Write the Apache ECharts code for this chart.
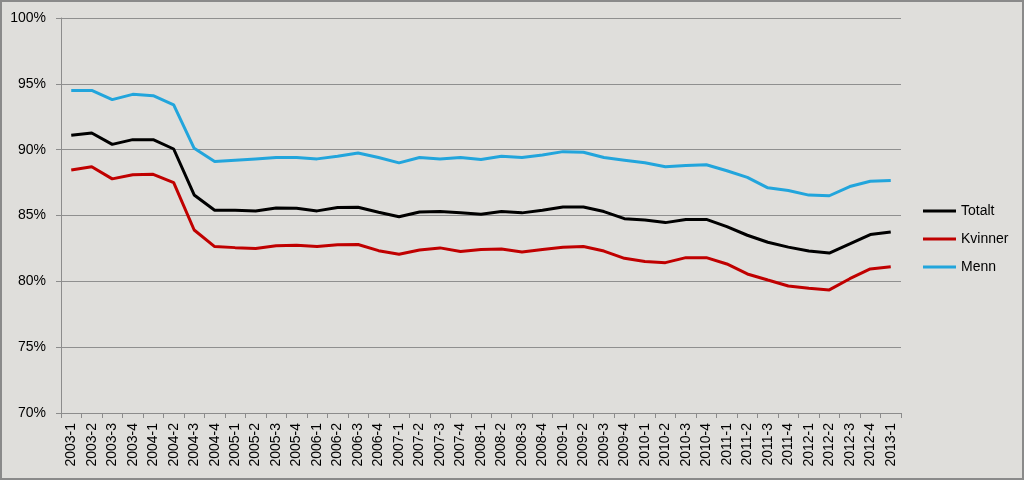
<!DOCTYPE html>
<html>
<head>
<meta charset="utf-8">
<script src="https://cdn.jsdelivr.net/npm/echarts@6/dist/echarts.min.js"></script>
<style>
  html, body { margin: 0; padding: 0; background: #dfdedb; }
  #chart_id { width: 1024px; height: 480px; }
</style>
</head>
<body>
<div id="chart_id"></div>
<script>
// kvartal 2003-1 .. 2013-1
var quarters = [
  '2003-1','2003-2','2003-3','2003-4','2004-1','2004-2','2004-3','2004-4',
  '2005-1','2005-2','2005-3','2005-4','2006-1','2006-2','2006-3','2006-4',
  '2007-1','2007-2','2007-3','2007-4','2008-1','2008-2','2008-3','2008-4',
  '2009-1','2009-2','2009-3','2009-4','2010-1','2010-2','2010-3','2010-4',
  '2011-1','2011-2','2011-3','2011-4','2012-1','2012-2','2012-3','2012-4',
  '2013-1'
];
var totalt = [
  91.1, 91.27, 90.4, 90.76, 90.76, 90.05, 86.56, 85.4,
  85.4, 85.35, 85.57, 85.55, 85.35, 85.6, 85.63, 85.25,
  84.9, 85.27, 85.3, 85.2, 85.1, 85.3, 85.2, 85.4,
  85.65, 85.65, 85.3, 84.76, 84.66, 84.46, 84.7, 84.7,
  84.15, 83.5, 82.97, 82.6, 82.3, 82.15, 82.84, 83.55,
  83.75
];
var kvinner = [
  88.46, 88.7, 87.78, 88.1, 88.13, 87.5, 83.9, 82.64,
  82.56, 82.5, 82.7, 82.74, 82.64, 82.77, 82.8, 82.33,
  82.05, 82.38, 82.54, 82.26, 82.41, 82.46, 82.23, 82.41,
  82.59, 82.64, 82.3, 81.75, 81.5, 81.42, 81.8, 81.8,
  81.32, 80.56, 80.1, 79.65, 79.47, 79.35, 80.2, 80.94,
  81.1
];
var menn = [
  94.5, 94.5, 93.8, 94.2, 94.1, 93.4, 90.1, 89.1,
  89.2, 89.3, 89.4, 89.4, 89.3, 89.5, 89.75, 89.4,
  89.0, 89.4, 89.3, 89.4, 89.25, 89.5, 89.4, 89.6,
  89.85, 89.8, 89.4, 89.2, 89.0, 88.7, 88.8, 88.85,
  88.4, 87.9, 87.1, 86.9, 86.55, 86.5, 87.2, 87.6,
  87.65
];
var yTicks = { min: 70, max: 100, step: 5 };

var chart = echarts.init(document.getElementById('chart_id'));
var font = '"Liberation Sans", Arial, sans-serif';
var option = {
  backgroundColor: '#dfdedb',
  animation: false,
  color: ['#000000', '#c00000', '#22a5dc'],
  textStyle: { fontFamily: font },
  grid: { left: 61, right: 123, top: 18, bottom: 67 },
  legend: {
    orient: 'vertical',
    left: 918,
    top: 199,
    icon: 'rect',
    itemWidth: 33,
    itemHeight: 3,
    itemGap: 14,
    textStyle: { fontSize: 14, color: '#000', fontFamily: font },
    data: ['Totalt', 'Kvinner', 'Menn']
  },
  graphic: [{
    type: 'rect',
    shape: { x: 1, y: 1, width: 1022, height: 478 },
    style: { fill: 'none', stroke: '#8a8a8a', lineWidth: 2 },
    silent: true
  }],
  xAxis: {
    type: 'category',
    boundaryGap: true,
    data: quarters,
    axisLine: { lineStyle: { color: '#8c8c8c' } },
    axisTick: { show: true, interval: 0, length: 5, lineStyle: { color: '#8c8c8c' } },
    axisLabel: { interval: 0, rotate: 90, fontSize: 14, color: '#000', margin: 10 },
    splitLine: { show: false }
  },
  yAxis: {
    type: 'value',
    min: yTicks.min,
    max: yTicks.max,
    interval: yTicks.step,
    axisLine: { show: true, lineStyle: { color: '#8c8c8c' } },
    axisTick: { show: true, length: 5, lineStyle: { color: '#8c8c8c' } },
    axisLabel: { formatter: '{value}%', fontSize: 14, color: '#000', margin: 15 },
    splitLine: { lineStyle: { color: '#8f8f8f', width: 1 } }
  },
  series: [
    { name: 'Totalt', type: 'line', data: totalt, symbol: 'none', lineStyle: { width: 3 } },
    { name: 'Kvinner', type: 'line', data: kvinner, symbol: 'none', lineStyle: { width: 3 } },
    { name: 'Menn', type: 'line', data: menn, symbol: 'none', lineStyle: { width: 3 } }
  ]
};
chart.setOption(option);
</script>
</body>
</html>
